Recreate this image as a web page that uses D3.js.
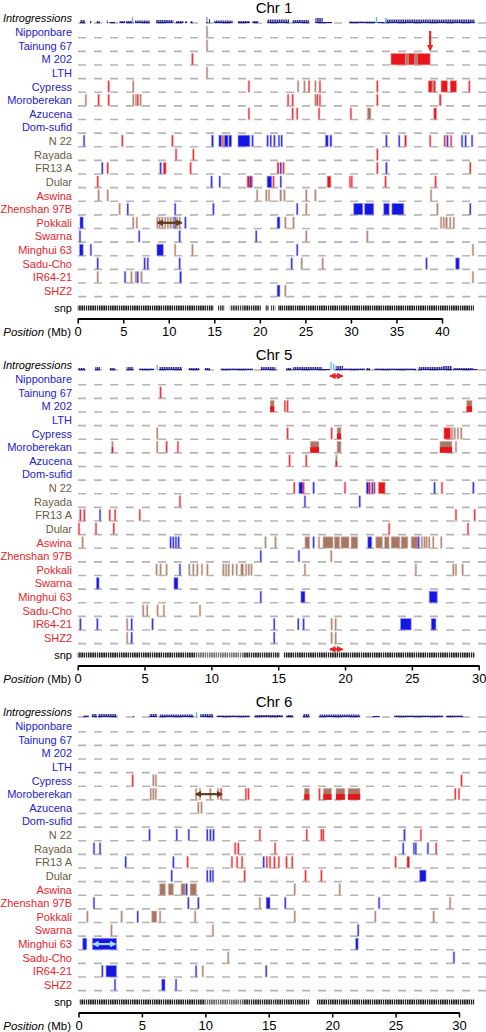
<!DOCTYPE html>
<html><head><meta charset="utf-8">
<script src="https://cdn.jsdelivr.net/npm/d3@7"></script>
<style>body{margin:0;background:#fff;} svg{display:block;font-family:"Liberation Sans",Arial,sans-serif;}</style>
</head><body><svg id="c" width="486" height="1032"></svg>
<script>
const accessions = ["Nipponbare","Tainung 67","M 202","LTH","Cypress","Moroberekan","Azucena","Dom-sufid","N 22","Rayada","FR13 A","Dular","Aswina","Zhenshan 97B","Pokkali","Swarna","Minghui 63","Sadu-Cho","IR64-21","SHZ2"];
const accessionGroup = [0,0,0,0,0,0,0,0,1,1,1,1,2,2,2,2,2,2,2,2];
const chrNames = ["Chr 1","Chr 5","Chr 6"];
const chr1Ticks = [0,5,10,15,20,25,30,35,40];
const chr5Ticks = [0,5,10,15,20,25,30];
const chr6Ticks = [0,5,10,15,20,25,30];

// segments per accession: [pos,type] or [start,end,type]; r=red, b=blue, n=brown, nr=brown over red
const chr1Segments = [
 [[14.2,"n"]],
 [[14.2,"n"]],
 [[12.6,"r"],[34.4,38.7,"r"],[36.0,36.3,"n"],[37.0,37.3,"n"]],
 [[14.2,"n"]],
 [[3.4,"r"],[6.1,"n"],[18.8,"r"],[24.2,"n"],[24.9,"n"],[25.4,"r"],[26.1,"n"],[26.6,"r"],[32.9,"r"],[38.5,39.3,"r"],[39.0,"n"],[39.9,40.6,"r"],[40.9,41.6,"r"],[43.0,"r"]],
 [[0.9,"n"],[2.3,"r"],[3.4,"r"],[6.1,"n"],[6.4,"n"],[6.6,"r"],[6.9,"n"],[23.1,"r"],[23.6,"r"],[26.1,"n"],[26.3,"r"],[26.6,"r"],[32.9,"r"],[39.7,39.9,"r"]],
 [[18.8,"r"],[23.6,"r"],[24.1,"r"],[26.5,"r"],[30.0,"r"],[31.8,32.2,"n"],[39.1,39.4,"r"]],
 [],
 [[0.7,"b"],[4.9,"r"],[10.4,"r"],[14.7,14.9,"b"],[15.5,15.8,"b"],[15.9,16.0,"r"],[16.1,16.5,"b"],[16.6,16.9,"b"],[17.6,18.9,"b"],[19.2,"b"],[20.85,"b"],[21.2,"b"],[21.6,"b"],[22.1,"b"],[22.4,"b"],[27.2,27.5,"b"],[27.7,27.9,"b"],[33.9,"b"],[35.3,"b"],[35.9,36.1,"r"],[38.7,"r"],[40.3,"r"],[40.6,"b"],[41.0,"r"],[42.2,"b"],[42.6,"b"],[43.3,"b"]],
 [[10.8,"r"],[12.7,"r"],[32.9,"r"]],
 [[2.7,"b"],[3.3,"r"],[9.1,"b"],[9.4,9.7,"r"],[12.4,"r"],[21.9,22.1,"r"],[22.3,"b"],[22.6,"r"],[32.9,"r"],[33.9,"b"],[43.1,"r"]],
 [[2.2,"r"],[14.7,"b"],[15.6,"b"],[18.6,19.2,"r"],[18.9,19.0,"b"],[20.8,21.3,"b"],[21.5,"r"],[22.3,"b"],[27.4,27.8,"r"],[29.9,"r"],[30.1,"r"],[33.8,"r"],[39.3,"r"]],
 [[2.3,"n"],[3.3,"n"],[19.7,"n"],[20.7,"n"],[21.0,"n"],[22.2,22.4,"n"],[22.7,"n"],[25.1,"n"],[26.1,"n"],[38.8,"n"]],
 [[4.6,"n"],[5.5,"b"],[10.7,"b"],[14.9,"b"],[24.1,"b"],[25.1,"n"],[30.3,31.3,"b"],[31.5,32.5,"b"],[33.6,34.2,"b"],[34.5,35.8,"b"],[39.5,"n"],[43.1,"b"]],
 [[0.25,0.6,"b"],[6.1,"n"],[6.5,"n"],[8.7,8.8,"n"],[9.0,"n"],[9.3,"n"],[9.6,"n"],[9.9,"n"],[10.2,"n"],[10.5,"n"],[10.7,"b"],[10.9,"n"],[11.2,"n"],[11.75,11.9,"b"],[21.9,22.2,"b"],[22.8,"n"],[23.7,"n"],[39.9,"n"],[40.2,"n"],[40.4,40.6,"n"],[40.9,"n"],[41.3,"n"]],
 [[0.25,"b"],[6.75,"b"],[11.2,"b"],[19.6,"b"],[25.1,"n"],[31.8,"n"]],
 [[0.2,0.6,"b"],[1.45,"b"],[8.7,9.4,"b"],[10.7,"n"],[12.6,"n"],[24.1,"b"],[43.4,"n"]],
 [[2.2,"b"],[7.3,7.4,"b"],[7.7,"b"],[11.2,"b"],[23.5,"b"],[24.6,"n"],[26.9,"n"],[38.3,"b"],[41.5,41.9,"b"]],
 [[2.2,"n"],[5.2,"b"],[5.9,"n"],[6.3,6.5,"n"],[6.6,"b"],[7.0,"n"],[11.2,11.4,"b"],[43.4,"n"]],
 [[21.9,22.2,"b"],[22.8,"n"]]
];
const chr5Segments = [
 [],
 [[6.2,"r"]],
 [[14.4,14.7,"nr"],[15.5,"r"],[15.7,"r"],[29.1,29.5,"nr"]],
 [],
 [[5.95,"n"],[15.7,"r"],[19.0,"r"],[19.4,19.7,"nr"],[27.4,27.9,"r"],[28.0,"n"],[28.2,"n"],[28.45,"n"],[28.7,"n"]],
 [[2.6,"nr"],[5.95,"n"],[6.65,"r"],[7.5,"r"],[17.4,18.05,"nr"],[19.4,19.7,"n"],[27.1,28.0,"nr"],[28.3,"n"]],
 [[15.85,"r"],[17.1,"r"],[19.3,19.4,"nr"]],
 [],
 [[16.2,"r"],[16.55,16.9,"b"],[16.85,16.95,"r"],[17.65,"b"],[20.0,"r"],[21.6,21.9,"r"],[21.6,21.75,"b"],[22.05,"b"],[22.2,"r"],[22.5,23.0,"r"],[26.7,"b"],[27.25,"r"],[29.6,"b"]],
 [[7.65,"r"],[17.0,"b"],[21.1,"b"]],
 [[0.2,"r"],[0.5,"r"],[1.67,"b"],[2.4,"r"],[2.8,"r"],[4.65,"r"],[28.3,"r"],[29.7,"r"]],
 [[0.1,"r"],[1.37,"r"],[2.7,"r"],[23.3,"r"],[29.2,"r"]],
 [[0.37,"n"],[6.95,"b"],[7.15,"b"],[7.35,"b"],[7.55,"b"],[14.0,14.1,"n"],[14.8,"n"],[17.0,17.35,"n"],[17.65,"b"],[18.05,"n"],[18.35,19.1,"n"],[19.2,19.6,"n"],[19.7,20.3,"n"],[20.45,20.95,"n"],[21.7,22.0,"b"],[22.3,22.8,"n"],[22.95,23.3,"n"],[23.45,24.1,"n"],[24.2,24.7,"n"],[24.95,25.45,"n"],[25.5,"b"],[25.75,"n"],[25.95,"n"],[26.1,"n"],[26.3,"n"],[26.6,"n"],[27.2,"n"]],
 [[13.7,"b"],[16.55,"b"],[18.97,"n"]],
 [[5.9,"n"],[6.2,"n"],[6.65,"n"],[7.65,"b"],[8.35,"n"],[8.6,8.7,"n"],[8.95,"n"],[9.3,"n"],[9.7,"n"],[10.9,"n"],[11.1,"n"],[11.3,"n"],[11.6,"n"],[11.9,"n"],[12.2,12.4,"n"],[12.6,"n"],[12.8,"n"],[13.0,"n"],[17.0,"n"],[25.3,"n"],[28.1,"n"],[28.3,"n"],[28.8,"n"]],
 [[1.4,1.6,"b"],[7.2,7.5,"b"]],
 [[13.7,"b"],[16.7,17.0,"b"],[26.3,26.9,"b"]],
 [[4.9,"n"],[5.2,"n"],[5.98,"n"],[6.45,"n"],[9.15,"n"]],
 [[0.2,"b"],[1.47,"b"],[3.7,"n"],[4.04,"b"],[5.6,"b"],[14.7,"b"],[16.5,"b"],[16.9,"b"],[19.0,"n"],[19.3,"n"],[24.15,24.95,"b"],[26.45,26.8,"b"]],
 [[3.7,"n"],[4.04,"b"],[14.7,"b"],[19.0,"n"],[19.3,"n"]]
];
const chr6Segments = [
 [],[],[],[],
 [[4.27,"r"],[5.9,"n"],[6.1,"n"],[30.2,"r"]],
 [[5.7,"n"],[5.9,"n"],[6.1,"n"],[9.27,"n"],[9.58,"n"],[10.4,"n"],[11.0,"n"],[11.24,"r"],[13.2,"r"],[13.4,"r"],[17.8,18.2,"nr"],[19.0,"r"],[19.3,19.95,"nr"],[20.3,21.0,"nr"],[21.25,22.2,"nr"],[29.7,"r"],[30.0,"r"]],
 [[9.45,"n"],[9.7,"n"]],
 [],
 [[5.6,"b"],[7.75,"b"],[8.7,"b"],[10.15,"b"],[10.4,"b"],[10.65,"b"],[14.3,"r"],[18.0,"r"],[19.15,"r"],[19.3,"r"],[25.7,"b"],[27.0,"r"]],
 [[1.22,"b"],[1.7,"b"],[12.35,"r"],[12.6,"r"],[15.5,"r"],[25.6,"b"],[26.45,"b"],[26.6,"b"],[27.55,"b"],[28.2,"r"]],
 [[3.72,"b"],[7.48,"b"],[8.6,"r"],[12.1,"r"],[12.5,"r"],[12.9,"r"],[14.6,"b"],[14.85,"r"],[15.1,"r"],[15.45,"r"],[15.8,"r"],[16.4,"r"],[16.85,"r"],[25.0,"r"],[25.9,26.1,"r"]],
 [[7.3,7.4,"b"],[10.15,"b"],[10.4,"b"],[10.6,"b"],[13.1,"r"],[17.9,"r"],[19.15,"r"],[26.9,27.4,"b"]],
 [[6.4,6.85,"n"],[7.08,7.48,"n"],[8.08,8.4,"n"],[8.45,8.58,"b"],[8.8,9.3,"n"],[17.05,"n"],[20.6,"n"]],
 [[1.22,"b"],[8.66,"b"],[9.45,"b"],[14.3,"n"],[14.8,15.1,"b"],[16.3,"b"],[23.7,"b"],[29.3,"n"]],
 [[0.7,"n"],[3.4,"n"],[4.67,"b"],[5.77,6.17,"n"],[6.43,"n"],[9.2,"n"],[17.05,"n"],[23.4,"n"],[28.0,"n"]],
 [[2.6,"n"],[10.6,"n"],[22.05,"b"]],
 [[0.33,0.65,"b"],[1.1,3.0,"b"],[21.85,22.05,"b"]],
 [[11.8,"n"],[29.6,"b"]],
 [[1.88,"b"],[2.17,3.0,"b"],[9.27,"b"],[9.8,"n"],[14.8,"b"]],
 [[2.88,"b"],[6.56,6.82,"b"],[7.69,"b"]]
];

// introgression density: [start, end, height]; peaks: [pos, height]
const chr1Intro = [[0.25,0.8,3],[1.35,1.5,2],[2.1,2.4,2],[3.2,3.3,3],[3.5,4.1,1],[4.6,5.2,2],[5.3,6.1,2],[6.3,7.9,2.5],[8.6,10.5,3],[10.8,11.6,2],[11.8,12.0,2],[12.4,12.6,2],[14.1,14.2,6],[14.4,14.5,4],[15.0,17.0,2.5],[17.6,18.9,2],[19.2,19.8,2],[20.8,23.2,3.5],[23.6,25.4,3],[26.1,26.9,5],[26.9,27.9,1],[29.8,32.7,1.5],[32.9,33.7,1],[33.8,43.6,3.5]];
const chr1Peaks = [[6.0,6],[32.8,6],[33.8,5]];
const chr5Intro = [[0.05,0.55,2],[1.3,1.67,3],[2.4,2.8,2],[3.66,4.16,3],[4.6,5.7,1.5],[6.1,7.8,3],[8.3,9.1,2],[9.5,9.9,2],[10.7,13.1,1.5],[13.7,14.8,3],[15.6,16.0,2],[16.1,18.3,3],[18.3,18.9,1],[19.3,19.85,4],[19.85,21.5,1.5],[21.6,21.85,2],[22.2,25.3,1.5],[25.5,27.3,3],[27.3,28.0,4],[28.1,29.6,2],[29.6,29.9,1]];
const chr5Peaks = [[5.95,5],[18.95,8],[19.15,6]];
const chr6Intro = [[0.4,0.8,1.5],[1.05,1.45,3],[1.55,3.0,3],[4.3,4.4,1],[5.6,6.2,3],[6.4,9.05,2.5],[9.6,10.6,3],[10.9,13.5,1.5],[13.9,16.1,2],[16.4,16.9,2],[17.7,18.2,3],[19.0,22.2,2.5],[23.2,23.75,1],[24.9,28.75,1.5],[29.0,30.3,1.5]];
const chr6Peaks = [[9.3,5]];

// snp coverage: [start, end, darkness]
const chr1Snp = [[0,14.9,0.95],[15.4,16.1,0.8],[16.7,18.1,0.8],[18.1,20.1,0.9],[20.6,21.0,0.8],[21.2,21.7,0.8],[22.0,43.5,0.95]];
const chr5Snp = [[0,8.9,0.95],[8.9,12.4,0.6],[12.4,15.1,0.9],[15.4,29.7,0.95]];
const chr6Snp = [[0.1,10,0.95],[10,13,0.65],[13,18.2,0.9],[18.8,31.2,0.95]];

// double arrows: [row, start, end, kind]
const chr1Arrows = [[14,8.8,11.4,"dark"]];
const chr1DownArrows = [38.7];
const chr5Arrows = [[-0.22,18.9,19.8,"red"],[19.83,18.9,19.8,"red"]];
const chr6Arrows = [[5,9.27,11.3,"dark"],[16,1.17,2.9,"light"]];

const labelColors = ["#2323c6","#6d5a3f","#e2262b"];
const fillColors = {r:"#e8151b", b:"#1616e2", n:"#a87764"};
const haloColors = {r:"#f39a9b", b:"#9a9af2", n:"#d6bdb2"};
const arrowColors = {dark:"#5a3b1c", red:"#e8262a", light:"#a6dcf5"};

const svg = d3.select("#c");
const defs = svg.append("defs");
defs.append("pattern").attr("id","snpPat").attr("width",2.2).attr("height",10)
  .attr("patternUnits","userSpaceOnUse").append("rect").attr("width",1.5).attr("height",10).attr("fill","#111");
defs.append("pattern").attr("id","introPat").attr("width",1.8).attr("height",10)
  .attr("patternUnits","userSpaceOnUse").append("rect").attr("width",1.2).attr("height",10).attr("fill","#1c1c8a");
Object.entries(arrowColors).forEach(([k,c])=>{
  defs.append("marker").attr("id","ah-"+k).attr("viewBox","0 0 10 10").attr("refX",8).attr("refY",5)
    .attr("markerWidth",3).attr("markerHeight",3).attr("orient","auto-start-reverse")
    .append("path").attr("d","M0,0L10,5L0,10z").attr("fill",c);
});

const panels = [
 {name:chrNames[0], segs:chr1Segments, intro:chr1Intro, peaks:chr1Peaks, snp:chr1Snp, ticks:chr1Ticks, arrows:chr1Arrows, down:chr1DownArrows, top:0, range:[77.7,442]},
 {name:chrNames[1], segs:chr5Segments, intro:chr5Intro, peaks:chr5Peaks, snp:chr5Snp, ticks:chr5Ticks, arrows:chr5Arrows, down:[], top:347, range:[77.7,478.7]},
 {name:chrNames[2], segs:chr6Segments, intro:chr6Intro, peaks:chr6Peaks, snp:chr6Snp, ticks:chr6Ticks, arrows:chr6Arrows, down:[], top:694, range:[78.5,459]}
];

panels.forEach(p=>{
  const top = p.top;
  const x = d3.scaleLinear().domain([0,p.ticks[p.ticks.length-1]]).range(p.range);
  const rowY = k => top + 32 + 13.63*k;
  const g = svg.append("g");
  g.append("text").attr("x",274).attr("y",top+12.5).attr("text-anchor","middle").attr("font-size",15).text(p.name);

  // dashed guide lines
  const dashYs = [top+23].concat(accessions.map((a,k)=>rowY(k)+5.7));
  g.selectAll(".dash").data(dashYs).join("line").attr("x1",78).attr("x2",486)
    .attr("y1",d=>d).attr("y2",d=>d).attr("stroke","#b5b5b5").attr("stroke-width",1.6).attr("stroke-dasharray","8 8");

  // labels
  g.append("text").attr("x",72).attr("y",rowY(-1)+4).attr("text-anchor","end").attr("font-size",11).attr("font-style","italic").text("Introgressions");
  g.selectAll(".lab").data(accessions).join("text").attr("x",72).attr("y",(d,k)=>rowY(k)+4)
    .attr("text-anchor","end").attr("font-size",11).attr("fill",(d,k)=>labelColors[accessionGroup[k]]).text(d=>d);
  g.append("text").attr("x",72).attr("y",top+312).attr("text-anchor","end").attr("font-size",11).text("snp");

  // introgression histogram
  const base = top+23;
  g.selectAll(".intro").data(p.intro).join("rect")
    .attr("x",d=>x(d[0])).attr("width",d=>Math.max(1.2,x(d[1])-x(d[0])))
    .attr("y",d=>base-d[2]).attr("height",d=>d[2]).attr("fill","url(#introPat)");
  g.selectAll(".introb").data(p.intro).join("rect")
    .attr("x",d=>x(d[0])).attr("width",d=>Math.max(1.2,x(d[1])-x(d[0])))
    .attr("y",base-1).attr("height",1.2).attr("fill","#1c1c8a");
  g.selectAll(".peak").data(p.peaks).join("rect")
    .attr("x",d=>x(d[0])-0.6).attr("width",1.3).attr("y",d=>base-d[1]).attr("height",d=>d[1]).attr("fill","#5ab6e6");

  // segments
  p.segs.forEach((list,k)=>{
    const yc = rowY(k);
    list.forEach(s=>{
      const a = s[0], b = s.length===3 ? s[1] : s[0], t = s[s.length-1];
      let x0 = x(a), w = x(b)-x(a);
      if (w < 1.5) { x0 = (x(a)+x(b))/2 - 0.75; w = 1.5; }
      if (t === "nr") {
        g.append("rect").attr("x",x0).attr("y",yc-5.8).attr("width",w).attr("height",11.4)
          .attr("fill",fillColors.n).attr("stroke",haloColors.n).attr("stroke-width",1).attr("stroke-opacity",0.6);
        g.append("rect").attr("x",x0).attr("y",yc).attr("width",w).attr("height",5.6).attr("fill",fillColors.r);
      } else {
        g.append("rect").attr("x",x0).attr("y",yc-5.8).attr("width",w).attr("height",11.4)
          .attr("fill",fillColors[t]).attr("stroke",haloColors[t]).attr("stroke-width",1).attr("stroke-opacity",0.6);
      }
    });
  });

  // arrows
  p.arrows.forEach(a=>{
    g.append("line").attr("x1",x(a[1])).attr("x2",x(a[2])).attr("y1",rowY(a[0])).attr("y2",rowY(a[0]))
      .attr("stroke",arrowColors[a[3]]).attr("stroke-width",2.2)
      .attr("marker-start","url(#ah-"+a[3]+")").attr("marker-end","url(#ah-"+a[3]+")");
  });
  p.down.forEach(m=>{
    g.append("line").attr("x1",x(m)).attr("x2",x(m)).attr("y1",top+31).attr("y2",top+50)
      .attr("stroke",arrowColors.red).attr("stroke-width",2.2).attr("marker-end","url(#ah-red)");
  });

  // snp
  g.selectAll(".snp").data(p.snp).join("rect")
    .attr("x",d=>x(d[0])).attr("width",d=>x(d[1])-x(d[0])).attr("y",top+305.5).attr("height",5)
    .attr("fill","url(#snpPat)").attr("opacity",d=>d[2]);

  // axis
  const ax = g.append("g").attr("transform",`translate(0,${top+318.5})`)
    .call(d3.axisBottom(x).tickValues(p.ticks).tickSize(5).tickSizeOuter(0).tickPadding(3));
  ax.select(".domain").attr("stroke-width",2);
  ax.selectAll(".tick line").attr("stroke-width",1.5);
  ax.selectAll(".tick text").attr("font-size",13).attr("font-family","Liberation Sans, Arial, sans-serif");
  const pl = g.append("text").attr("x",71).attr("y",top+336).attr("text-anchor","end").attr("font-size",11.5);
  pl.append("tspan").attr("font-style","italic").text("Position");
  pl.append("tspan").text(" (Mb)");
});
</script></body></html>
